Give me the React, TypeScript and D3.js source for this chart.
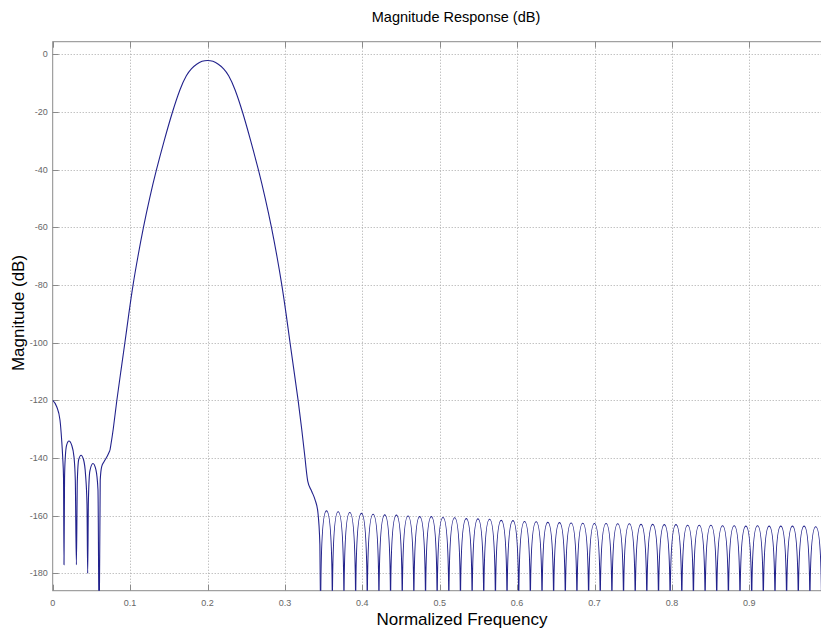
import React from 'react';
import * as d3 from 'd3';

const W = 821;
const H = 628;

const xTicks = [0, 0.1, 0.2, 0.3, 0.4, 0.5, 0.6, 0.7, 0.8, 0.9];
const xTickLabels = ['0', '0.1', '0.2', '0.3', '0.4', '0.5', '0.6', '0.7', '0.8', '0.9'];
const yTicks = [0, -20, -40, -60, -80, -100, -120, -140, -160, -180];
const yTickLabels = ['0', '-20', '-40', '-60', '-80', '-100', '-120', '-140', '-160', '-180'];

// low-frequency sidelobes: [normalized frequency, dB]
const lowSidelobes: [number, number][] = [
  [0, -120], [0.0052, -122.2], [0.0094, -126.8], [0.0116, -133.8], [0.0129, -139.6],
  [0.014, -147], [0.0146, -177], [0.0153, -147], [0.0163, -139.6], [0.018, -135.5],
  [0.021, -134.1], [0.0245, -135.5], [0.0275, -139.6], [0.0292, -147.6], [0.0306, -177],
  [0.0318, -148], [0.0336, -140.5], [0.0366, -139.0], [0.0398, -140.5], [0.0425, -146],
  [0.0443, -156], [0.0452, -180], [0.0461, -155], [0.048, -144.5], [0.052, -141.9],
  [0.0558, -144], [0.0585, -151], [0.06, -200], [0.0614, -147.7], [0.0633, -143],
  [0.0663, -141.3], [0.0706, -139.3], [0.074, -137.3],
];

// main lobe: [normalized frequency, dB]
const mainLobe: [number, number][] = [
  [0.074, -137.3], [0.0783, -130.3], [0.0827, -120], [0.088, -110], [0.0933, -100],
  [0.0983, -90], [0.1036, -80], [0.1101, -70], [0.1171, -60], [0.125, -50],
  [0.1339, -40], [0.1439, -30], [0.1545, -20], [0.165, -11.5], [0.173, -7.0],
  [0.179, -4.9], [0.186, -3.3], [0.193, -2.3], [0.2, -2.0], [0.207, -2.3],
  [0.214, -3.3], [0.221, -4.9], [0.227, -7.0], [0.235, -11.5], [0.2455, -20],
  [0.2559, -30], [0.2659, -40], [0.2748, -50], [0.2828, -60], [0.2898, -70],
  [0.2962, -80], [0.3016, -90], [0.3066, -100], [0.3119, -110], [0.3172, -120],
  [0.3218, -130], [0.326, -140],
];

// transition shoulder into the first stopband null
const rightShoulder: [number, number][] = [
  [0.326, -140], [0.3295, -148], [0.3346, -151.5], [0.339, -154.5], [0.3425, -158.5],
  [0.3452, -170], [0.3462, -196],
];

// stopband null frequencies (nulls fall below the axis floor)
const stopbandNulls = [
  0.3462, 0.3613, 0.3763, 0.3914, 0.4064, 0.4215, 0.4365, 0.4516, 0.4666, 0.4817,
  0.4967, 0.5118, 0.5268, 0.5419, 0.5569, 0.572, 0.587, 0.6021, 0.6171, 0.6322,
  0.6472, 0.6623, 0.6773, 0.6924, 0.7074, 0.7225, 0.7375, 0.7526, 0.7676, 0.7827,
  0.7977, 0.8128, 0.8278, 0.8429, 0.8579, 0.873, 0.888, 0.9031, 0.9181, 0.9332,
  0.9482, 0.9633, 0.9783, 0.9934, 1.0084,
];
const stopbandNullDb = -196;

// stopband sidelobe peak levels (dB)
const stopbandPeaks = [
  -158.3, -158.6, -158.9, -159.2, -159.5, -159.7, -159.8, -160.1, -160.3, -160.3,
  -160.6, -160.7, -161.0, -161.1, -161.2, -161.6, -161.7, -162.0, -162.1, -162.3,
  -162.4, -162.5, -162.6, -162.7, -162.7, -162.8, -162.8, -163.0, -163.0, -163.1,
  -163.1, -163.3, -163.3, -163.3, -163.5, -163.5, -163.6, -163.5, -163.6, -163.6,
  -163.6, -163.6, -163.8, -163.8,
];

const FONT = '"Liberation Sans", Arial, Helvetica, sans-serif';

export default function App() {
  const left = 52.7, right = 826.7, top = 41.7, bottom = 590.7;
  const x = d3.scaleLinear().domain([0, 1]).range([left, right]);
  const y = d3.scaleLinear().domain([-186, 4.4]).range([bottom, top]);

  const mk = (curve: d3.CurveFactory) =>
    d3
      .line<[number, number]>()
      .x((d) => x(d[0]))
      .y((d) => y(d[1]))
      .curve(curve);
  const sidePath = mk(d3.curveMonotoneX)(lowSidelobes) || '';
  const lobePath = mk(d3.curveBasis)(mainLobe) || '';
  const shoulderPath = mk(d3.curveMonotoneX)(rightShoulder) || '';

  const p = d3.path();
  const yN = y(stopbandNullDb);
  p.moveTo(x(stopbandNulls[0]), yN);
  for (let i = 0; i < stopbandPeaks.length; i++) {
    const xa = x(stopbandNulls[i]);
    const xb = x(stopbandNulls[i + 1]);
    const xp = (xa + xb) / 2;
    const yp = y(stopbandPeaks[i]);
    const w = xp - xa;
    p.bezierCurveTo(xa, yN + 0.87 * (yp - yN), xa + 0.55 * w, yp, xp, yp);
    p.bezierCurveTo(xp + 0.45 * w, yp, xb, yN + 0.87 * (yp - yN), xb, yN);
  }
  const stopPath = p.toString();

  const axisColor = '#8a8a8a';
  const gridColor = '#a8a8a8';
  const tickLen = 6;

  return (
    <svg
      width={W}
      height={H}
      style={{ position: 'absolute', left: 0, top: 0, background: '#fff' }}
    >
      <defs>
        <clipPath id="plotClip">
          <rect x={left} y={top} width={right - left} height={bottom - top} />
        </clipPath>
      </defs>
      <rect x={0} y={0} width={W} height={H} fill="#fff" />

      {/* grid */}
      <g stroke={gridColor} strokeWidth={1} strokeDasharray="1,2" fill="none">
        {xTicks.slice(1).map((t) => (
          <line key={'gx' + t} x1={Math.round(x(t)) + 0.5} x2={Math.round(x(t)) + 0.5} y1={top} y2={bottom} />
        ))}
        {yTicks.map((t) => (
          <line key={'gy' + t} x1={left} x2={right} y1={Math.round(y(t)) + 0.5} y2={Math.round(y(t)) + 0.5} />
        ))}
      </g>

      {/* box + ticks */}
      <g stroke={axisColor} strokeWidth={1} fill="none">
        <rect x={left} y={top} width={right - left} height={bottom - top} />
        {xTicks.map((t) => (
          <g key={'tx' + t}>
            <line x1={Math.round(x(t)) + 0.5} x2={Math.round(x(t)) + 0.5} y1={bottom} y2={bottom - tickLen} />
            <line x1={Math.round(x(t)) + 0.5} x2={Math.round(x(t)) + 0.5} y1={top} y2={top + tickLen} />
          </g>
        ))}
        {yTicks.map((t) => (
          <line key={'ty' + t} x1={left} x2={left + tickLen} y1={Math.round(y(t)) + 0.5} y2={Math.round(y(t)) + 0.5} />
        ))}
      </g>

      {/* data */}
      <g clipPath="url(#plotClip)" fill="none" stroke="#22228c" strokeWidth={1.1}>
        <path d={sidePath} />
        <path d={lobePath} />
        <path d={shoulderPath} />
        <path d={stopPath} />
      </g>

      {/* tick labels */}
      <g fontFamily={FONT} fontSize={9} fill="#666">
        {yTicks.map((t, i) => (
          <text key={'ly' + t} x={left - 5} y={y(t)} textAnchor="end" dominantBaseline="central">
            {yTickLabels[i]}
          </text>
        ))}
        {xTicks.map((t, i) => (
          <text key={'lx' + t} x={x(t)} y={bottom + 12} textAnchor="middle" dominantBaseline="central">
            {xTickLabels[i]}
          </text>
        ))}
      </g>

      {/* titles */}
      <text x={456} y={22} textAnchor="middle" fontFamily={FONT} fontSize={14.5} fill="#000">
        Magnitude Response (dB)
      </text>
      <text x={462} y={625} textAnchor="middle" fontFamily={FONT} fontSize={17} fill="#000">
        Normalized Frequency
      </text>
      <text
        transform={`translate(24, 313) rotate(-90)`}
        textAnchor="middle"
        fontFamily={FONT}
        fontSize={17}
        fill="#000"
      >
        Magnitude (dB)
      </text>
    </svg>
  );
}
